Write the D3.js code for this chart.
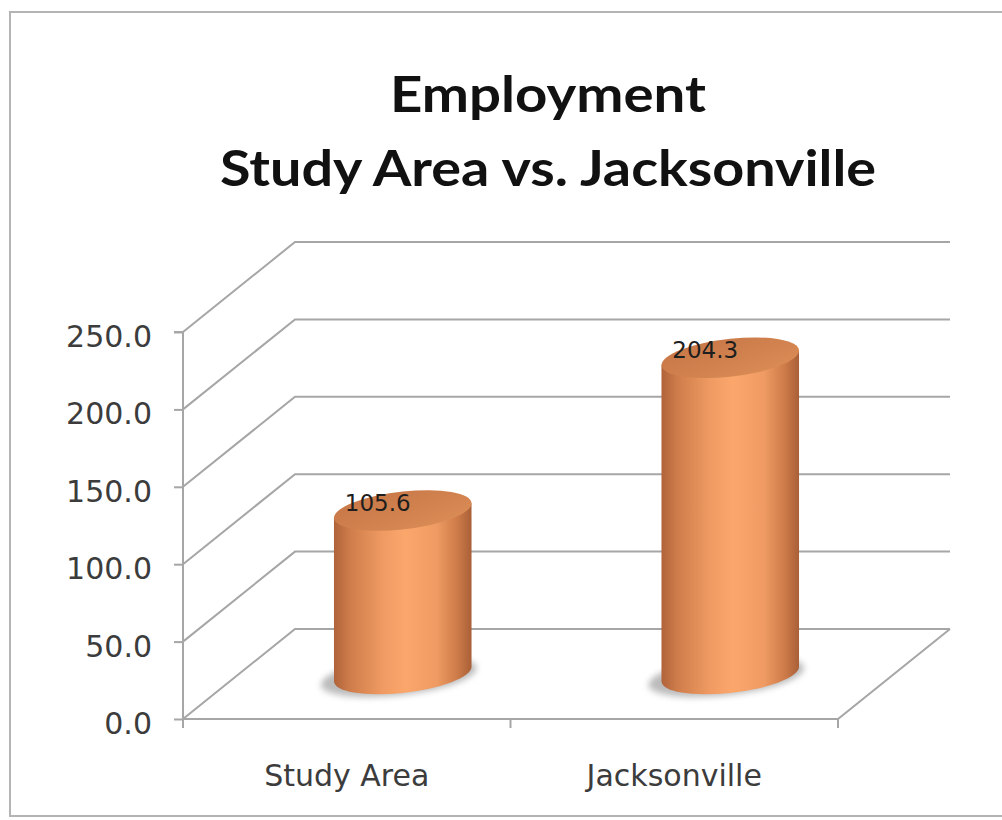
<!DOCTYPE html>
<html>
<head>
<meta charset="utf-8">
<script src="https://cdn.jsdelivr.net/npm/d3@7"></script>
<style>
  html, body { margin: 0; padding: 0; background: #fff; overflow: hidden; }
  svg { display: block; }
</style>
</head>
<body>
<svg id="chart" width="1002" height="820"></svg>
<script>
// Employment figures by area
const categories = ["Study Area", "Jacksonville"];
const values = [105.6, 204.3];
const yTicks = [0, 50, 100, 150, 200, 250];
const titleLines = ["Employment", "Study Area vs. Jacksonville"];

const svg = d3.select("#chart");

// 3D box layout: front plane, plus the depth offset of the back wall
const front = { left: 183, right: 838, bottom: 719, top: 332 };
const depth = { dx: 112, dy: -90 };

const y = d3.scaleLinear().domain([0, 250]).range([front.bottom, front.top]);
const x = d3.scaleBand().domain(categories).range([front.left, front.right]).padding(0);

// outer frame (runs past the right edge of the page)
svg.append("path")
  .attr("d", "M1010,12H10V816H1010")
  .attr("fill", "none").attr("stroke", "#b4b4b4").attr("stroke-width", 2);

// title
const title = svg.append("g").attr("font-family", "Lato, 'Open Sans', sans-serif")
  .attr("font-weight", "bold").attr("fill", "#111").attr("text-anchor", "middle");
title.append("text").attr("x", 548).attr("y", 112).attr("font-size", 50)
  .attr("textLength", 316).attr("lengthAdjust", "spacingAndGlyphs").text(titleLines[0]);
title.append("text").attr("x", 548).attr("y", 186).attr("font-size", 50)
  .attr("textLength", 656).attr("lengthAdjust", "spacingAndGlyphs").text(titleLines[1]);

const gridColor = "#a6a6a6";
const grid = svg.append("g").attr("fill", "none").attr("stroke", gridColor).attr("stroke-width", 2);

// side wall + back wall gridlines
yTicks.forEach(t => {
  const y0 = y(t);
  grid.append("path").attr("d", d3.line()([
    [front.left, y0], [front.left + depth.dx, y0 + depth.dy], [front.right + depth.dx, y0 + depth.dy]
  ]));
});

// floor front and right edges
grid.append("path").attr("d", d3.line()([
  [front.left, front.bottom], [front.right, front.bottom],
  [front.right + depth.dx, front.bottom + depth.dy]
]));

// value axis
const yAxis = svg.append("g")
  .attr("transform", `translate(${front.left},0)`)
  .call(d3.axisLeft(y).tickValues(yTicks).tickSize(9).tickPadding(22).tickFormat(d3.format(".1f")));
yAxis.select(".domain").attr("stroke", gridColor).attr("stroke-width", 2)
  .attr("d", `M-9,${front.top}H0V${front.bottom + 9}`);
yAxis.selectAll(".tick line").attr("stroke", gridColor).attr("stroke-width", 2);
yAxis.selectAll(".tick text")
  .attr("font-family", "'DejaVu Sans', Verdana, sans-serif")
  .attr("font-size", 30).attr("fill", "#3c3c3c").attr("dy", "0.48em");

// category axis
const xAxis = svg.append("g")
  .attr("transform", `translate(0,${front.bottom})`)
  .call(d3.axisBottom(x).tickSize(0).tickPadding(46));
xAxis.select(".domain").remove();
xAxis.selectAll(".tick text")
  .attr("font-family", "'DejaVu Sans', Verdana, sans-serif")
  .attr("font-size", 30).attr("fill", "#3c3c3c");
// category separators
svg.append("g").attr("stroke", gridColor).attr("stroke-width", 2)
  .selectAll("line").data([front.left, ...categories.map(c => x(c) + x.bandwidth())])
  .join("line")
  .attr("x1", d => d).attr("x2", d => d)
  .attr("y1", front.bottom).attr("y2", front.bottom + 9);

// gradients for the cylinders
const defs = svg.append("defs");
const side = defs.append("linearGradient").attr("id", "cylSide")
  .attr("x1", "0%").attr("x2", "100%").attr("y1", "0%").attr("y2", "0%");
[["0%", "#b0633a"], ["12%", "#cf7d4b"], ["35%", "#ef9a62"], ["52%", "#fba76c"],
 ["75%", "#ee9a62"], ["90%", "#cc7a48"], ["100%", "#a95f37"]]
  .forEach(([o, c]) => side.append("stop").attr("offset", o).attr("stop-color", c));
const topG = defs.append("linearGradient").attr("id", "cylTop")
  .attr("x1", "0%").attr("x2", "100%").attr("y1", "0%").attr("y2", "100%");
[["0%", "#c77646"], ["60%", "#d2834f"], ["100%", "#dd8f59"]]
  .forEach(([o, c]) => topG.append("stop").attr("offset", o).attr("stop-color", c));
defs.append("filter").attr("id", "shadowBlur")
  .attr("x", "-30%").attr("y", "-60%").attr("width", "160%").attr("height", "220%")
  .append("feGaussianBlur").attr("stdDeviation", 3);

// cylinders stand at mid-depth of the floor
const rx = x.bandwidth() * 0.21;
const ry = 19;
const tilt = -6;

const bars = svg.append("g").selectAll("g").data(categories.map((c, i) => ({ c, v: values[i] })))
  .join("g")
  .attr("transform", d => {
    const cx = x(d.c) + x.bandwidth() / 2 + depth.dx / 2;
    return `translate(${cx},0) skewY(${tilt})`;
  });

const baseY = y(0) + depth.dy / 2;

bars.append("ellipse")
  .attr("cx", -4).attr("cy", baseY + 2)
  .attr("rx", rx + 9).attr("ry", ry)
  .attr("fill", "#8e8e8e").attr("opacity", 0.6)
  .attr("filter", "url(#shadowBlur)");

bars.append("path")
  .attr("fill", "url(#cylSide)")
  .attr("d", d => {
    const topY = y(d.v) + depth.dy / 2;
    return `M${-rx},${topY}L${-rx},${baseY}A${rx},${ry} 0 0 0 ${rx},${baseY}L${rx},${topY}Z`;
  });

bars.append("ellipse")
  .attr("cx", 0).attr("cy", d => y(d.v) + depth.dy / 2)
  .attr("rx", rx).attr("ry", ry)
  .attr("fill", "url(#cylTop)");

// value labels on top of each cylinder
svg.append("g")
  .selectAll("text").data(categories.map((c, i) => ({ c, v: values[i] })))
  .join("text")
  .attr("x", d => x(d.c) + x.bandwidth() / 2 + depth.dx / 2 - 25)
  .attr("y", d => y(d.v) + depth.dy / 2)
  .attr("text-anchor", "middle")
  .attr("font-family", "'DejaVu Sans', Verdana, sans-serif")
  .attr("font-size", 23).attr("fill", "#1e1e1e")
  .text(d => d3.format(".1f")(d.v));
</script>
</body>
</html>
